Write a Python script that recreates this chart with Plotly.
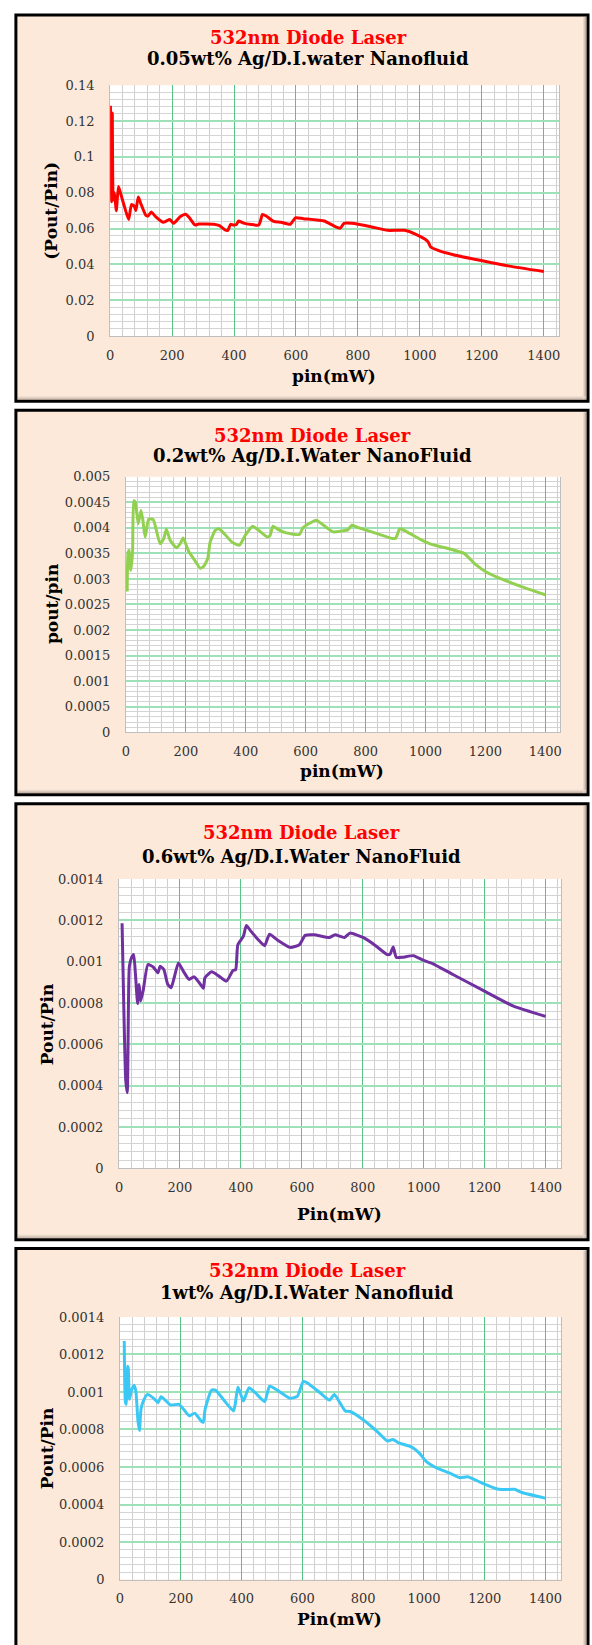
import plotly.graph_objects as go

W, H = 592, 1645

# ---------------- data ----------------
p1_x = [1, 3, 5, 7, 10, 14, 20, 27, 35, 45, 60, 69, 78, 83, 91, 99, 115, 123, 133, 147, 171, 193, 205,
        226, 244, 256, 274, 286, 335, 353, 371, 380, 389, 397, 407, 415, 431, 480, 492, 504, 528, 552,
        582, 598, 624, 691, 721, 743, 755, 781, 842, 896, 950, 987, 1017, 1027, 1035, 1059, 1108, 1198,
        1289, 1400]
p1_y = [0.1286, 0.110, 0.0749, 0.1245, 0.076, 0.080, 0.0700, 0.0835, 0.0790, 0.0730, 0.0650, 0.0734,
        0.0725, 0.0700, 0.0776, 0.0740, 0.0675, 0.0670, 0.0693, 0.0666, 0.0635, 0.0650, 0.0629, 0.0666,
        0.0680, 0.0660, 0.0620, 0.0625, 0.0624, 0.0616, 0.0592, 0.0589, 0.0624, 0.0620, 0.0621, 0.0642,
        0.0630, 0.0620, 0.0679, 0.0670, 0.0640, 0.0635, 0.0624, 0.0660, 0.0655, 0.0642, 0.0616, 0.0602,
        0.0629, 0.0629, 0.0610, 0.0590, 0.0590, 0.0568, 0.0540, 0.0524, 0.0497, 0.0478, 0.0454, 0.0421,
        0.0390, 0.0360]

p2_x = [4, 7.5, 11, 16, 22, 26, 31, 41, 50, 56, 64, 76, 91, 114, 126, 135, 148, 169, 181, 191, 210, 229,
        248, 260, 273, 281, 298, 310, 329, 354, 379, 398, 423, 441, 473, 481, 491, 510, 535, 579, 591,
        610, 635, 660, 691, 723, 741, 754, 773, 841, 891, 901, 914, 935, 991, 1023, 1079, 1129, 1166,
        1204, 1241, 1316, 1400]
p2_y = [0.002755, 0.00353, 0.00356, 0.00317, 0.00353, 0.00453, 0.00450, 0.00408, 0.00434, 0.00417,
        0.00382, 0.00417, 0.00416, 0.00369, 0.00379, 0.00397, 0.00375, 0.00361, 0.00369, 0.00380,
        0.00353, 0.00337, 0.00321, 0.00325, 0.00340, 0.00372, 0.00395, 0.00398, 0.00388, 0.00372,
        0.00366, 0.00385, 0.00403, 0.00396, 0.00382, 0.00385, 0.00403, 0.00396, 0.00390, 0.00387,
        0.00400, 0.00408, 0.00415, 0.00405, 0.00392, 0.00394, 0.00396, 0.00405, 0.00401, 0.00388,
        0.00379, 0.00380, 0.00398, 0.00393, 0.00375, 0.00367, 0.00359, 0.00350, 0.00329, 0.00313,
        0.00303, 0.00286, 0.00269]

p3_x = [10, 15, 22, 27, 31, 34, 42, 48, 54, 61, 66, 71, 79, 95, 113, 128, 135, 147, 160, 171, 181, 195,
        211, 230, 246, 261, 277, 282, 304, 328, 353, 374, 383, 390, 408, 418, 432, 457, 478, 494, 519,
        562, 592, 611, 641, 691, 709, 740, 758, 801, 838, 881, 890, 900, 910, 930, 967, 998, 1029, 1096,
        1195, 1293, 1400]
p3_y = [0.001186, 0.000826, 0.000427, 0.000366, 0.000794, 0.000978, 0.001023, 0.001034, 0.000938,
        0.000797, 0.000890, 0.000810, 0.000858, 0.000986, 0.000973, 0.000946, 0.000978, 0.000962,
        0.000890, 0.000874, 0.000922, 0.000994, 0.000954, 0.000914, 0.000927, 0.000903, 0.000871,
        0.000922, 0.000951, 0.000930, 0.000906, 0.000957, 0.000962, 0.001082, 0.001122, 0.001175,
        0.001149, 0.001106, 0.001077, 0.001133, 0.001106, 0.001069, 0.001082, 0.001127, 0.001130,
        0.001117, 0.001130, 0.001117, 0.001138, 0.001117, 0.001082, 0.001034, 0.001037, 0.001071,
        0.001021, 0.001021, 0.001029, 0.001007, 0.000991, 0.000938, 0.000861, 0.000786, 0.000735]

p4_x = [14, 18, 21, 25, 27, 31, 37, 46, 52, 59, 64, 69, 77, 90, 111, 125, 135, 166, 194, 209, 228, 246,
        268, 274, 280, 301, 314, 344, 373, 379, 388, 406, 424, 445, 476, 492, 517, 560, 584, 603, 621,
        658, 689, 705, 720, 741, 757, 800, 849, 880, 898, 917, 960, 984, 1009, 1040, 1083, 1119, 1144,
        1193, 1242, 1267, 1298, 1322, 1399]
p4_y = [0.001272, 0.000943, 0.000934, 0.001137, 0.001128, 0.000961, 0.001005, 0.001036, 0.001005,
        0.000847, 0.000794, 0.000908, 0.000952, 0.000987, 0.000966, 0.000943, 0.000975, 0.000931,
        0.000934, 0.000908, 0.000873, 0.000887, 0.000843, 0.000838, 0.000908, 0.001010, 0.001010,
        0.000952, 0.000899, 0.000934, 0.001026, 0.000952, 0.001022, 0.000996, 0.000949, 0.001031,
        0.001010, 0.000966, 0.000978, 0.001057, 0.001043, 0.000996, 0.000957, 0.000987, 0.000952,
        0.000899, 0.000896, 0.000852, 0.000785, 0.000738, 0.000747, 0.000729, 0.000706, 0.000675,
        0.000627, 0.000596, 0.000569, 0.000543, 0.000548, 0.000513, 0.000483, 0.000480, 0.000481,
        0.000464, 0.000434]

x_ticks = [0, 200, 400, 600, 800, 1000, 1200, 1400]
x_ticktext = ["0", "200", "400", "600", "800", "1000", "1200", "1400"]

p1_yticks = [0, 0.02, 0.04, 0.06, 0.08, 0.1, 0.12, 0.14]
p1_yticktext = ["0", "0.02", "0.04", "0.06", "0.08", "0.1", "0.12", "0.14"]
p2_yticks = [0, 0.0005, 0.001, 0.0015, 0.002, 0.0025, 0.003, 0.0035, 0.004, 0.0045, 0.005]
p2_yticktext = ["0", "0.0005", "0.001", "0.0015", "0.002", "0.0025", "0.003", "0.0035", "0.004",
                "0.0045", "0.005"]
p34_yticks = [0, 0.0002, 0.0004, 0.0006, 0.0008, 0.001, 0.0012, 0.0014]
p34_yticktext = ["0", "0.0002", "0.0004", "0.0006", "0.0008", "0.001", "0.0012", "0.0014"]

title_top = "532nm Diode Laser"
subtitles = ["0.05wt% Ag/D.I.water Nanofluid", "0.2wt% Ag/D.I.Water NanoFluid",
             "0.6wt% Ag/D.I.Water NanoFluid", "1wt% Ag/D.I.Water Nanofluid"]
y_titles = ["(Pout/Pin)", "pout/pin", "Pout/Pin", "Pout/Pin"]
x_titles = ["pin(mW)", "pin(mW)", "Pin(mW)", "Pin(mW)"]
colors = ["#ff0000", "#92d050", "#7030a0", "#3cc8f5"]

# ---------------- layout geometry (pixels) ----------------
panels = [
    dict(py=(8, 398), plot=(107, 560, 79, 332), tx=307, t1=31, t2=52, xt=(333, 372), yt=(48, 206),
         ymax=0.14, ydt=0.004, yt_vals=p1_yticks, yt_text=p1_yticktext),
    dict(py=(407, 795), plot=(123, 561, 474, 732), tx=311, t1=432, t2=453, xt=(341, 771), yt=(48, 603),
         ymax=0.005, ydt=0.0001, yt_vals=p2_yticks, yt_text=p2_yticktext),
    dict(py=(804, 1244), plot=(116, 561.5, 880, 1172), tx=300, t1=833, t2=857, xt=(338, 1218), yt=(43, 1027),
         ymax=0.0014, ydt=0.00004, yt_vals=p34_yticks, yt_text=p34_yticktext),
    dict(py=(1253, 1700), plot=(117, 561.5, 1322, 1587), tx=306, t1=1275, t2=1297, xt=(338, 1627), yt=(43, 1455),
         ymax=0.0014, ydt=0.00004, yt_vals=p34_yticks, yt_text=p34_yticktext),
]
series = [(p1_x, p1_y), (p2_x, p2_y), (p3_x, p3_y), (p4_x, p4_y)]

def fx(px):
    return px / W

def fy(py):
    return 1 - py / H

fig = go.Figure()
shapes = []
annotations = []
layout_axes = {}
FONT = "DejaVu Serif"

for i, pnl in enumerate(panels):
    n = "" if i == 0 else str(i + 1)
    xa, ya = "x" + n, "y" + n
    x0, x1, y0, y1 = pnl["plot"]
    xs, ys = series[i]
    fig.add_trace(go.Scatter(x=xs, y=ys, mode="lines", xaxis=xa, yaxis=ya,
                             line=dict(color=colors[i], width=3, shape="spline", smoothing=0.5),
                             showlegend=False, hoverinfo="skip"))
    layout_axes["xaxis" + n] = dict(
        domain=[fx(x0), fx(x1)], anchor=ya, range=[0, 1450],
        tickmode="array", tickvals=x_ticks, ticktext=x_ticktext,
        showgrid=True, gridcolor="#56c482", gridwidth=1,
        minor=dict(dtick=40, tick0=0, showgrid=True, gridcolor="#cfcfcf", gridwidth=1, ticks=""),
        showline=True, linecolor="#bfbfbf", linewidth=1, mirror=False,
        ticks="outside", ticklen=7, tickcolor="rgba(0,0,0,0)",
        tickfont=dict(family=FONT, size=13, color="#333333"), zeroline=False, fixedrange=True)
    layout_axes["yaxis" + n] = dict(
        domain=[fy(y1), fy(y0)], anchor=xa, range=[0, pnl["ymax"]],
        tickmode="array", tickvals=pnl["yt_vals"], ticktext=pnl["yt_text"],
        showgrid=True, gridcolor="#9ee0b8", gridwidth=1.5,
        minor=dict(dtick=pnl["ydt"], tick0=0, showgrid=True, gridcolor="#d4d4d4", gridwidth=1, ticks=""),
        showline=True, linecolor="#bfbfbf", linewidth=1, mirror=True,
        ticks="outside", ticklen=12, tickcolor="rgba(0,0,0,0)",
        tickfont=dict(family=FONT, size=13, color="#333333"), zeroline=False, fixedrange=True)

    py0, py1 = pnl["py"]
    shapes.append(dict(type="rect", xref="paper", yref="paper", layer="below",
                       x0=fx(12), x1=fx(589), y0=fy(py1), y1=fy(py0),
                       fillcolor="#fde9d9", line=dict(width=0)))
    for k, c in enumerate(["#b7a89d", "#d3c4b8", "#e8d8cb"]):
        shapes.append(dict(type="line", xref="paper", yref="paper", layer="below",
                           x0=fx(14), x1=fx(587), y0=fy(py1 - 2.5 - k), y1=fy(py1 - 2.5 - k),
                           line=dict(color=c, width=1)))
        shapes.append(dict(type="line", xref="paper", yref="paper", layer="below",
                           x0=fx(587 - 0.5 - k), x1=fx(587 - 0.5 - k), y0=fy(py1 - 2), y1=fy(py0 + 2),
                           line=dict(color=c, width=1)))
    shapes.append(dict(type="rect", xref="paper", yref="paper", layer="above",
                       x0=fx(12), x1=fx(589), y0=fy(py1), y1=fy(py0),
                       fillcolor="rgba(0,0,0,0)", line=dict(color="#000000", width=3)))
    shapes.append(dict(type="rect", xref="paper", yref="paper", layer="below",
                       x0=fx(x0), x1=fx(x1), y0=fy(y1), y1=fy(y0),
                       fillcolor="#ffffff", line=dict(width=0)))

    annotations.append(dict(xref="paper", yref="paper", x=fx(pnl["tx"]), y=fy(pnl["t1"]),
                            text="<b>" + title_top + "</b>", showarrow=False,
                            xanchor="center", yanchor="middle",
                            font=dict(family=FONT, size=18, color="#ff0000")))
    annotations.append(dict(xref="paper", yref="paper", x=fx(pnl["tx"]), y=fy(pnl["t2"]),
                            text="<b>" + subtitles[i] + "</b>", showarrow=False,
                            xanchor="center", yanchor="middle",
                            font=dict(family=FONT, size=18, color="#000000")))
    annotations.append(dict(xref="paper", yref="paper", x=fx(pnl["xt"][0]), y=fy(pnl["xt"][1]),
                            text="<b>" + x_titles[i] + "</b>", showarrow=False,
                            xanchor="center", yanchor="middle",
                            font=dict(family=FONT, size=17, color="#000000")))
    annotations.append(dict(xref="paper", yref="paper", x=fx(pnl["yt"][0]), y=fy(pnl["yt"][1]),
                            text="<b>" + y_titles[i] + "</b>", showarrow=False, textangle=-90,
                            xanchor="center", yanchor="middle",
                            font=dict(family=FONT, size=17, color="#000000")))

fig.update_layout(width=W, height=H, margin=dict(l=0, r=0, t=0, b=0),
                  paper_bgcolor="#ffffff", plot_bgcolor="rgba(0,0,0,0)",
                  shapes=shapes, annotations=annotations, showlegend=False, **layout_axes)

fig.write_html("out.html", config={"displayModeBar": False},
               post_script="document.body.style.margin='0';document.body.style.overflow='hidden';")
